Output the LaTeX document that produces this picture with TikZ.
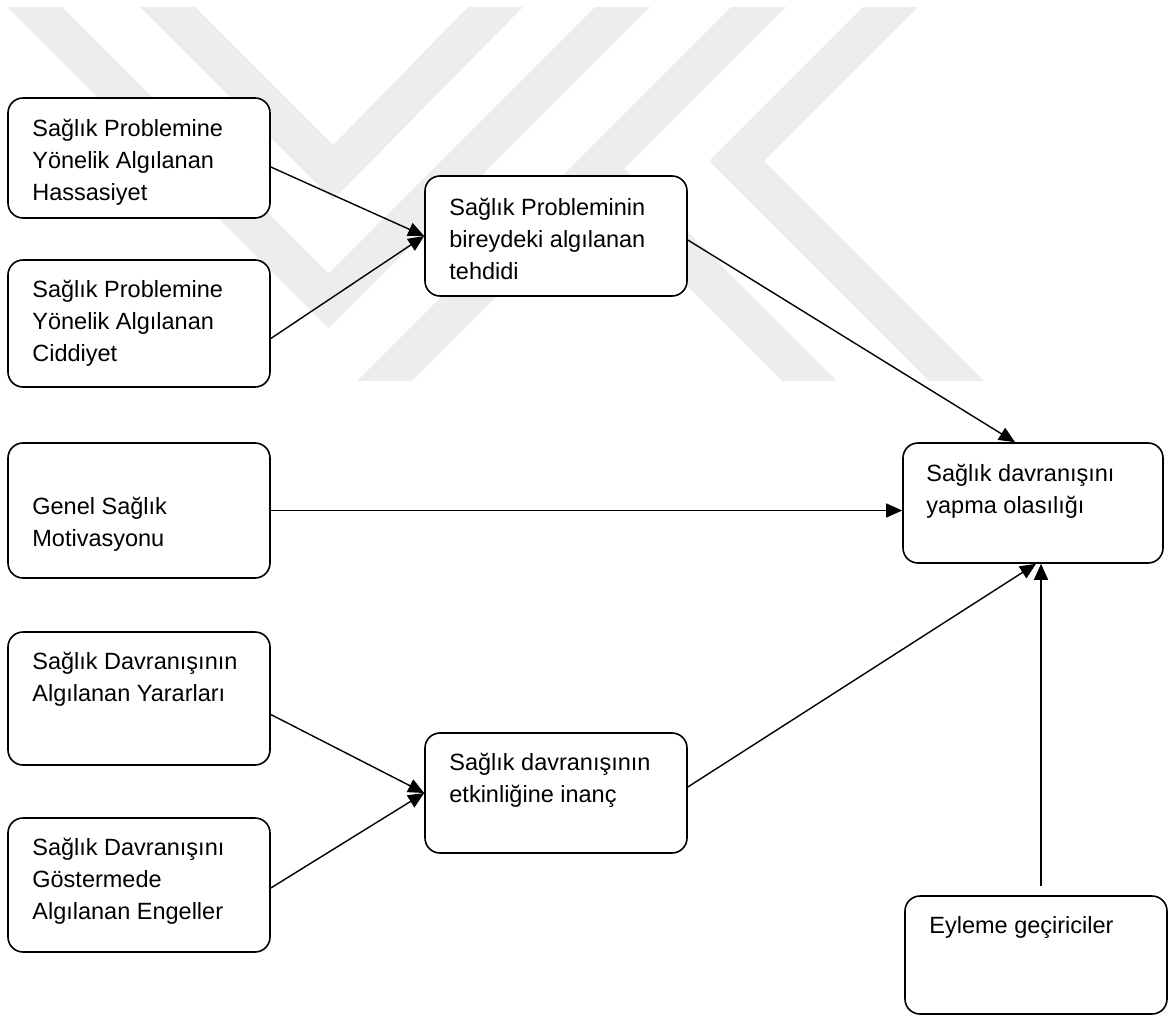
\documentclass[tikz,border=0pt]{standalone}
\usepackage{fontspec}
\setmainfont{Liberation Sans}
\usetikzlibrary{positioning,arrows.meta}

\begin{document}
\begin{tikzpicture}[x=1pt, y=-1pt,
  box/.style={draw, line width=1.6pt, rounded corners=15pt, fill=white, inner sep=0pt, minimum width=262pt},
  txt/.style={anchor=north west, inner sep=0pt, align=left, font=\fontsize{23.5}{32}\selectfont},
  arr/.style={line width=1.4pt, -{Triangle[length=16pt,width=14pt]}},
  wm/.style={fill=gray!14}
]
  \useasboundingbox (0,0) rectangle (1172,1016);

  % watermark
  \fill[wm] (7,7) -- (62,7) -- (328.5,273.5) -- (595,7) -- (650,7) -- (328.5,328.5) -- cycle;
  \fill[wm] (140,7) -- (195,7) -- (333,145) -- (468,7) -- (523,7) -- (333,200) -- cycle;
  \fill[wm] (731,7) -- (786,7) -- (624.5,168.5) -- (837,381) -- (782,381) -- (597,196) -- (412,381) -- (357,381) -- cycle;
  \fill[wm] (863,7) -- (918,7) -- (764,161) -- (984,381) -- (929,381) -- (709,161) -- cycle;

  % boxes
  \node[box, minimum height=120pt] (hassas) at (139,158) {};
  \node[box, minimum height=127pt] (ciddi) at (139,323.5) {};
  \node[box, minimum height=135pt] (motiv) at (139,510.5) {};
  \node[box, minimum height=133pt] (yarar) at (139,698.5) {};
  \node[box, minimum height=134pt] (engel) at (139,885) {};
  \node[box, minimum height=120pt] (tehdit) at (556,236) {};
  \node[box, minimum height=120pt] (inanc) at (556,793) {};
  \node[box, minimum height=120pt, minimum width=260pt] (olasilik) at (1033,503) {};
  \node[box, minimum height=118pt] (eylem) at (1036,955) {};

  % texts
  \node[txt] (hassas-t) at ([xshift=25pt,yshift=-22pt]hassas.north west) {Sağlık Problemine\\Yönelik Algılanan\\Hassasiyet};
  \node[txt] (ciddi-t) at ([xshift=25pt,yshift=-21pt]ciddi.north west) {Sağlık Problemine\\Yönelik Algılanan\\Ciddiyet};
  \node[txt] (motiv-t) at ([xshift=25pt,yshift=-55pt]motiv.north west) {Genel Sağlık\\Motivasyonu};
  \node[txt] (yarar-t) at ([xshift=25pt,yshift=-21pt]yarar.north west) {Sağlık Davranışının\\Algılanan Yararları};
  \node[txt] (engel-t) at ([xshift=25pt,yshift=-21pt]engel.north west) {Sağlık Davranışını\\Göstermede\\Algılanan Engeller};
  \node[txt] (tehdit-t) at ([xshift=25pt,yshift=-23pt]tehdit.north west) {Sağlık Probleminin\\bireydeki algılanan\\tehdidi};
  \node[txt] (inanc-t) at ([xshift=25pt,yshift=-21pt]inanc.north west) {Sağlık davranışının\\etkinliğine inanç};
  \node[txt] (olasilik-t) at ([xshift=24pt,yshift=-22pt]olasilik.north west) {Sağlık davranışını\\yapma olasılığı};
  \node[txt] (eylem-t) at ([xshift=25pt,yshift=-21pt]eylem.north west) {Eyleme geçiriciler};

  % arrows
  \draw[arr] ([yshift=-9pt]hassas.east) -- (tehdit.west);
  \draw[arr] ([yshift=-15pt]ciddi.east) -- (tehdit.west);
  \draw[arr] ([yshift=-4pt]tehdit.east) -- ([xshift=-18pt]olasilik.north);
  \draw[arr] (motiv.east) -- (motiv.east -| olasilik.west);
  \draw[arr] ([yshift=-16pt]yarar.east) -- (inanc.west);
  \draw[arr] ([yshift=-3pt]engel.east) -- (inanc.west);
  \draw[arr] ([yshift=6pt]inanc.east) -- ([xshift=3pt]olasilik.south);
  \draw[arr] ([xshift=5pt,yshift=9pt]eylem.north) -- ([xshift=5pt]eylem.north |- olasilik.south);
\end{tikzpicture}
\end{document}
